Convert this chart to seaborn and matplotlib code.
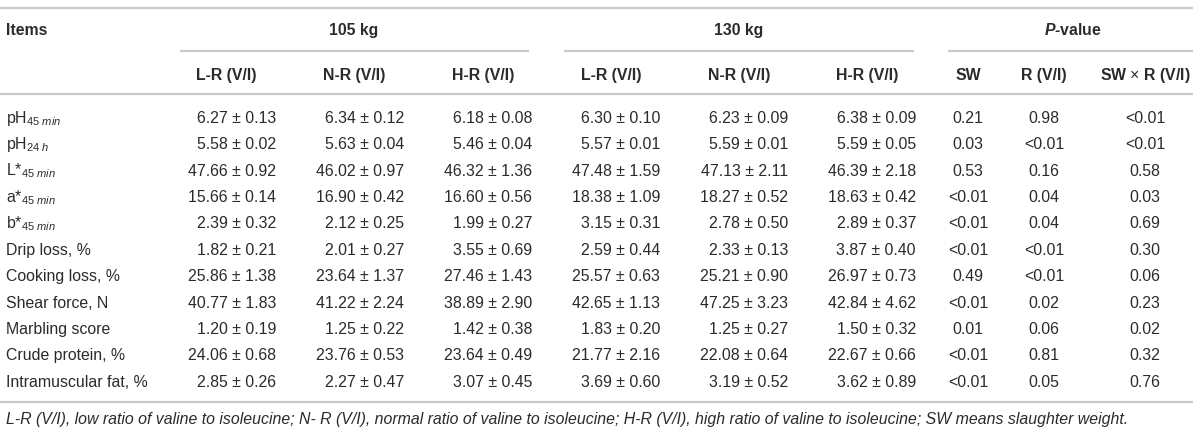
import seaborn as sns
import matplotlib.pyplot as plt

# table values (mean, sd per group)
items = [r'pH$_{\mathrm{45}\ \mathit{min}}$', r'pH$_{\mathrm{24}\ \mathit{h}}$',
         r'L*$_{\mathrm{45}\ \mathit{min}}$', r'a*$_{\mathrm{45}\ \mathit{min}}$',
         r'b*$_{\mathrm{45}\ \mathit{min}}$', 'Drip loss, %', 'Cooking loss, %',
         'Shear force, N', 'Marbling score', 'Crude protein, %', 'Intramuscular fat, %']

lr105_mean = [6.27, 5.58, 47.66, 15.66, 2.39, 1.82, 25.86, 40.77, 1.20, 24.06, 2.85]
lr105_sd = [0.13, 0.02, 0.92, 0.14, 0.32, 0.21, 1.38, 1.83, 0.19, 0.68, 0.26]
nr105_mean = [6.34, 5.63, 46.02, 16.90, 2.12, 2.01, 23.64, 41.22, 1.25, 23.76, 2.27]
nr105_sd = [0.12, 0.04, 0.97, 0.42, 0.25, 0.27, 1.37, 2.24, 0.22, 0.53, 0.47]
hr105_mean = [6.18, 5.46, 46.32, 16.60, 1.99, 3.55, 27.46, 38.89, 1.42, 23.64, 3.07]
hr105_sd = [0.08, 0.04, 1.36, 0.56, 0.27, 0.69, 1.43, 2.90, 0.38, 0.49, 0.45]
lr130_mean = [6.30, 5.57, 47.48, 18.38, 3.15, 2.59, 25.57, 42.65, 1.83, 21.77, 3.69]
lr130_sd = [0.10, 0.01, 1.59, 1.09, 0.31, 0.44, 0.63, 1.13, 0.20, 2.16, 0.60]
nr130_mean = [6.23, 5.59, 47.13, 18.27, 2.78, 2.33, 25.21, 47.25, 1.25, 22.08, 3.19]
nr130_sd = [0.09, 0.01, 2.11, 0.52, 0.50, 0.13, 0.90, 3.23, 0.27, 0.64, 0.52]
hr130_mean = [6.38, 5.59, 46.39, 18.63, 2.89, 3.87, 26.97, 42.84, 1.50, 22.67, 3.62]
hr130_sd = [0.09, 0.05, 2.18, 0.42, 0.37, 0.40, 0.73, 4.62, 0.32, 0.66, 0.89]

p_sw = ['0.21', '0.03', '0.53', '<0.01', '<0.01', '<0.01', '0.49', '<0.01', '0.01', '<0.01', '<0.01']
p_r = ['0.98', '<0.01', '0.16', '0.04', '0.04', '<0.01', '<0.01', '0.02', '0.06', '0.81', '0.05']
p_int = ['<0.01', '<0.01', '0.58', '0.03', '0.69', '0.30', '0.06', '0.23', '0.02', '0.32', '0.76']

groups = ['105 kg', '130 kg', r'$\mathbfit{P}$-value']
sub_headers = ['L-R (V/I)', 'N-R (V/I)', 'H-R (V/I)'] * 2 + ['SW', 'R (V/I)', r'SW $\times$ R (V/I)']
footnote = ('L-R (V/I), low ratio of valine to isoleucine; N- R (V/I), normal ratio of valine '
            'to isoleucine; H-R (V/I), high ratio of valine to isoleucine; SW means slaughter weight.')

sns.set_theme(style='white')
plt.rcParams['font.family'] = ['Liberation Sans', 'DejaVu Sans']
plt.rcParams['mathtext.fontset'] = 'custom'
plt.rcParams['mathtext.rm'] = 'Liberation Sans'
plt.rcParams['mathtext.it'] = 'Liberation Sans:italic'
plt.rcParams['mathtext.bf'] = 'Liberation Sans:bold'
plt.rcParams['mathtext.bfit'] = 'Liberation Sans:italic:bold'

txt = '#2b2b2b'
rule = '#c9c9c9'
fs = 11.4
half_cap = 5.8  # px, to put baselines so text is centred on the row

fig = plt.figure(figsize=(12, 4.32), dpi=100)
ax = fig.add_axes([0, 0, 1, 1])
ax.set_xlim(0, 1200)
ax.set_ylim(432, 0)
ax.axis('off')

# layout in pixel units
row_y = [117 + 26.4 * i for i in range(len(items))]
val_right = [276, 404, 532, 660, 788, 916]
sub_x = [226, 354, 483, 611, 739, 867, 968, 1044, 1145]
group_x = [354, 739, 1073]
group_span = [(180, 529), (564, 914), (948, 1193)]

ax.hlines([7.5, 94, 402], 0, 1193, color=rule, lw=1.6)
for (x0, x1) in group_span:
    ax.hlines(51, x0, x1, color=rule, lw=1.6)


def put(x, y, s, ha='left', **kw):
    ax.text(x, y + half_cap, s, ha=ha, va='baseline', fontsize=fs, color=txt, **kw)


put(6, 29, 'Items', fontweight='bold')
for g, x in zip(groups, group_x):
    put(x, 29, g, ha='center', fontweight='bold')
for s, x in zip(sub_headers, sub_x):
    put(x, 74, s, ha='center', fontweight='bold')

cols = [(lr105_mean, lr105_sd), (nr105_mean, nr105_sd), (hr105_mean, hr105_sd),
        (lr130_mean, lr130_sd), (nr130_mean, nr130_sd), (hr130_mean, hr130_sd)]

for i, y in enumerate(row_y):
    put(6, y, items[i])
    for (m, s), xr in zip(cols, val_right):
        put(xr, y, f'{m[i]:.2f} \u00b1 {s[i]:.2f}', ha='right')
    for pv, x in zip([p_sw, p_r, p_int], sub_x[6:]):
        put(x, y, pv[i], ha='center')

ax.text(6, 418 + half_cap, footnote, ha='left', va='baseline', fontsize=11.4,
        style='italic', color=txt)

plt.savefig('out.png', dpi=100)
